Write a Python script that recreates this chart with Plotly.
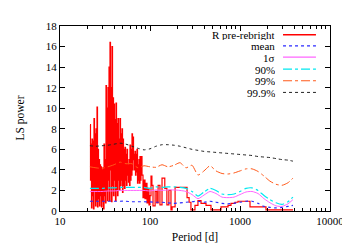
import plotly.graph_objects as go

# ---- data ----
# dense short-period part of the periodogram (peak / trough pairs)
red_head_period = [21.54, 21.82, 22.10, 22.38, 22.68, 22.97, 23.26, 23.56, 23.86, 24.17,
                   24.48, 24.80, 25.12, 25.44, 25.77, 26.10, 26.44, 26.78, 27.13, 27.48,
                   27.83, 28.19, 28.55, 28.92, 29.29, 29.67, 30.05, 30.44, 30.83, 31.23,
                   31.62, 32.03, 32.44, 32.86, 33.29, 33.72, 34.15, 34.59, 35.04, 35.49,
                   35.94, 36.40, 36.88, 37.36, 37.84, 38.33, 38.82, 39.32, 39.81, 40.32,
                   40.85, 41.38, 41.91, 42.45, 43.00, 43.55, 44.10, 44.67, 45.25, 45.83,
                   46.42, 47.02, 47.63, 48.24, 48.87, 49.50, 50.12, 50.77, 51.42, 52.08,
                   52.76, 53.44, 54.13, 54.83, 55.53, 56.25, 56.97, 57.71, 58.45, 59.20,
                   59.97, 60.74, 61.52, 62.31, 63.10, 63.92, 64.74, 65.58, 66.43, 67.29,
                   68.13, 69.01, 69.90, 70.80, 71.70, 72.63, 73.60, 74.55, 75.40, 76.37,
                   77.40, 78.40]
red_head_power = [8.4, 3.0, 6.5, 0.3, 7.0, 1.5, 6.8, 0.2, 9.0, 2.0,
                  7.5, 0.5, 8.0, 1.0, 10.1, 0.4, 6.0, 1.2, 5.0, 0.5,
                  4.5, 1.5, 4.3, 0.4, 4.0, 1.0, 4.2, 0.2, 6.5, 1.5,
                  5.0, 0.8, 12.2, 2.0, 10.0, 1.0, 12.0, 3.0, 14.0, 1.0,
                  16.4, 4.0, 12.0, 0.9, 16.0, 2.5, 11.0, 1.5, 10.4, 3.0,
                  8.9, 1.0, 10.5, 2.0, 8.5, 1.5, 9.0, 3.0, 7.0, 2.0,
                  9.0, 2.5, 7.5, 3.0, 8.0, 1.8, 7.0, 2.5, 6.0, 2.2,
                  6.2, 3.0, 5.5, 2.5, 6.0, 3.5, 4.5, 2.8, 5.0, 2.5,
                  6.4, 3.0, 6.0, 3.5, 7.5, 4.0, 7.2, 5.0, 5.5, 4.0,
                  5.8, 3.5, 5.5, 3.8, 6.0, 2.7, 4.5, 3.0, 5.0, 2.7,
                  5.3, 3.0]
# longer-period part (stepped)
red_tail_period = [79.4, 81.5, 83.6, 85.8, 88.0, 90.3, 92.6, 95.0, 97.5, 100,
                   102.6, 105, 108, 114, 119, 123, 129, 136, 146, 154,
                   162, 171, 176, 190, 258, 272, 285, 316, 341, 369,
                   419, 476, 615, 736, 794, 880, 950, 1292, 1945, 3880]
red_tail_power = [5.3, 3.5, 1.3, 3.0, 1.2, 2.7, 0.8, 2.2, 0.6, 1.5,
                  3.4, 2.5, 0.5, 1.9, 0.8, 2.5, 0.6, 3.2, 2.2, 0.6,
                  2.0, 0.1, 0.4, 2.3, 1.3, 0.85, 0.1, 0.55, 1.0, 0.75,
                  0.55, 0.1, 0.4, 0.55, 0.75, 0.85, 0.95, 0.4, 0.1, 0.1]

thr_period = [21.5, 25.1, 29.3, 34.1, 39.8, 46.4, 54.1, 63.1, 73.6, 85.8,
              100, 116.6, 136.0, 158.5, 184.8, 215.4, 251.2, 292.9, 341.5, 398.1,
              464.2, 541.2, 631.0, 735.6, 857.7, 1000, 1166, 1359.4, 1584.9, 1847.8,
              2154.4, 2511.9, 2928.6, 3414.5, 3873]
mean_power = [0.95, 0.95, 0.95, 0.95, 0.95, 0.95, 0.95, 0.9, 0.9, 0.9,
              0.88, 0.85, 0.85, 0.8, 0.75, 0.8, 0.85, 0.9, 0.95, 0.85,
              0.95, 0.85, 0.75, 0.7, 0.75, 0.85, 0.95, 0.95, 0.75, 0.45,
              0.35, 0.3, 0.35, 0.45, 0.55]
sigma1_power = [1.9, 1.9, 1.9, 1.95, 1.95, 2.0, 2.0, 2.0, 2.0, 2.0,
                1.95, 2.05, 2.0, 2.05, 2.05, 2.0, 1.9, 1.6, 1.2, 1.55,
                1.9, 1.7, 1.35, 1.3, 1.35, 1.6, 1.85, 1.9, 1.7, 1.2,
                0.8, 0.5, 0.45, 0.7, 1.1]
p90_power = [2.2, 2.2, 2.2, 2.25, 2.25, 2.3, 2.3, 2.3, 2.3, 2.3,
             2.2, 2.35, 2.3, 2.35, 2.35, 2.3, 2.2, 1.9, 1.45, 1.85,
             2.2, 2.0, 1.65, 1.6, 1.65, 1.9, 2.2, 2.25, 2.0, 1.5,
             1.1, 0.8, 0.65, 0.9, 1.35]
p99_power = [4.3, 4.2, 4.15, 4.3, 4.5, 4.75, 4.6, 4.6, 4.2, 4.4,
             4.3, 4.25, 4.5, 4.3, 4.45, 4.7, 4.2, 4.45, 3.5, 3.9,
             4.4, 3.9, 3.65, 3.6, 3.7, 3.9, 4.1, 4.1, 3.85, 3.4,
             2.9, 2.6, 2.5, 2.75, 3.2]
p999_power = [6.35, 6.3, 6.35, 6.4, 6.5, 6.6, 6.5, 6.3, 6.1, 5.95,
              6.05, 6.3, 6.45, 6.45, 6.4, 6.3, 6.15, 6.0, 5.9, 5.8,
              5.75, 5.7, 5.65, 5.6, 5.55, 5.5, 5.45, 5.4, 5.3, 5.25,
              5.2, 5.1, 5.0, 4.95, 4.85]

legend_labels = ["R pre-rebright", "mean", "1σ", "90%", "99%", "99.9%"]
x_ticks = [10, 100, 1000, 10000]
y_ticks = [0, 2, 4, 6, 8, 10, 12, 14, 16, 18]

# ---- styles ----
RED = "#ff0000"
BLUE = "#2a2aff"
MAG = "#ff66ff"
CYAN = "#00e8f0"
ORANGE = "#ff5a1a"
BLACK = "#222222"
FONT = "Liberation Serif"

fig = go.Figure()
red_period = red_head_period + red_tail_period
red_power = red_head_power + red_tail_power
fig.add_trace(go.Scatter(x=red_period, y=red_power, mode="lines",
                         line=dict(color=RED, width=1.2, shape="hv"), showlegend=False))
curves = [
    (mean_power, BLUE, "dot", 1.2),
    (sigma1_power, MAG, "solid", 1.0),
    (p90_power, CYAN, "dashdot", 1.2),
    (p99_power, ORANGE, "dashdot", 1.0),
    (p999_power, BLACK, "dot", 1.0),
]
for vals, col, dash, w in curves:
    fig.add_trace(go.Scatter(x=thr_period, y=vals, mode="lines",
                             line=dict(color=col, width=w, dash=dash, shape="spline", smoothing=0.6),
                             showlegend=False))

# manual gnuplot-style legend (text right-aligned, sample to its right)
leg_styles = [(RED, "solid", 1.6), (BLUE, "dot", 1.2), (MAG, "solid", 1.2),
              (CYAN, "dashdot", 1.2), (ORANGE, "dashdot", 1.0), (BLACK, "dot", 1.0)]
row_y = [0.953, 0.893, 0.832, 0.767, 0.704, 0.641]
for lab, (col, dash, w), yy in zip(legend_labels, leg_styles, row_y):
    fig.add_annotation(x=0.80, y=yy, xref="paper", yref="paper", text=lab,
                       showarrow=False, xanchor="right", yanchor="middle",
                       height=11, borderpad=0,
                       font=dict(family=FONT, size=11, color="#000000"))
    fig.add_shape(type="line", xref="paper", yref="paper", x0=0.826, x1=0.948, y0=yy, y1=yy,
                  line=dict(color=col, width=w, dash=dash))

# y-axis title placed like gnuplot's (far left)
fig.add_annotation(x=-0.148, y=0.5, xref="paper", yref="paper", text="LS power",
                   showarrow=False, textangle=-90, xanchor="center", yanchor="middle",
                   font=dict(family=FONT, size=11.5, color="#000000"))

axis_common = dict(showline=True, linecolor="#000000", linewidth=1, mirror="allticks",
                   ticks="inside", tickcolor="#000000", showgrid=False, zeroline=False,
                   tickfont=dict(family=FONT, size=11, color="#000000"))
fig.update_xaxes(type="log", range=[1, 4], tickvals=x_ticks, ticktext=[str(v) for v in x_ticks],
                 ticklen=5,
                 minor=dict(ticks="inside", ticklen=3, tickcolor="#000000",
                            tickvals=[v * m for v in [10, 100, 1000] for m in range(2, 10)]),
                 title=dict(text="Period [d]", font=dict(family=FONT, size=11.5, color="#000000"), standoff=6),
                 **axis_common)
fig.update_yaxes(range=[0, 18], tickvals=y_ticks, ticklen=5, **axis_common)
fig.update_layout(width=350, height=245, margin=dict(l=52, r=28, t=15, b=39),
                  plot_bgcolor="#ffffff", paper_bgcolor="#ffffff",
                  font=dict(family=FONT, size=11, color="#000000"))
fig.write_html("out.html")
